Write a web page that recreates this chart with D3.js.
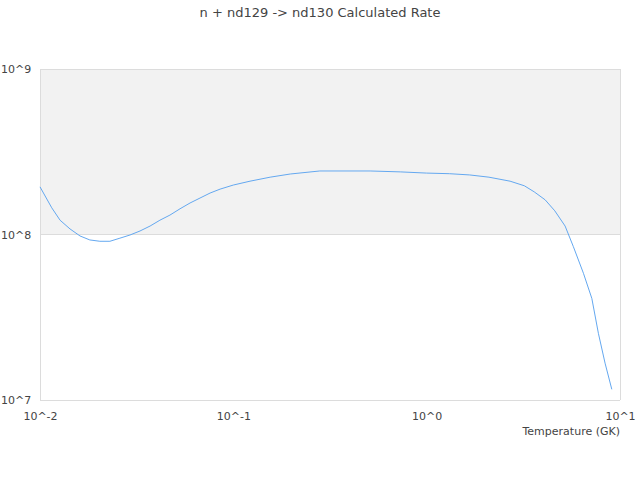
<!DOCTYPE html>
<html>
<head>
<meta charset="utf-8">
<script src="https://cdn.jsdelivr.net/npm/d3@7"></script>
<style>
  body { margin: 0; background: #fff; }
  #chart text { font-family: "DejaVu Sans", sans-serif; fill: #444; }
</style>
</head>
<body>
<div id="chart"></div>
<script>
// temperature (GK) and rate
let temps = [0.01, 0.0115, 0.0127, 0.0143, 0.0161, 0.0181, 0.0204, 0.023, 0.0259, 0.0292,
             0.0329, 0.0371, 0.0417, 0.047, 0.053, 0.0597, 0.0672, 0.0758, 0.0854, 0.1,
             0.122, 0.155, 0.197, 0.28, 0.51, 0.73, 1.0, 1.31, 1.67, 2.1, 2.7, 3.2, 3.6,
             4.1, 4.6, 5.2, 5.74, 6.47, 7.15, 7.73, 8.37, 9.07];
let rates = [1.94e8, 1.45e8, 1.22e8, 1.08e8, 9.8e7, 9.27e7, 9.1e7, 9.1e7, 9.5e7, 9.93e7,
             1.05e8, 1.125e8, 1.22e8, 1.31e8, 1.43e8, 1.55e8, 1.66e8, 1.78e8, 1.88e8, 1.99e8,
             2.1e8, 2.22e8, 2.32e8, 2.42e8, 2.42e8, 2.39e8, 2.35e8, 2.33e8, 2.29e8, 2.22e8,
             2.1e8, 1.97e8, 1.81e8, 1.62e8, 1.39e8, 1.125e8, 8.44e7, 5.83e7, 4.11e7, 2.53e7,
             1.67e7, 1.16e7];
let xTicks = [0.01, 0.1, 1, 10];
let xTickLabels = ["10^-2", "10^-1", "10^0", "10^1"];
let yTicks = [1e7, 1e8, 1e9];
let yTickLabels = ["10^7", "10^8", "10^9"];
let bands = [[1e8, 1e9]];

let w = 640, h = 480;
let m = {left: 40, right: 20, top: 69, bottom: 80};

let svg = d3.select("#chart").append("svg")
    .attr("width", w)
    .attr("height", h);

let x = d3.scaleLog().domain([0.01, 10]).range([m.left, w - m.right]);
let y = d3.scaleLog().domain([1e7, 1e9]).range([h - m.bottom, m.top]);

// shaded alternate band
svg.selectAll("rect.band")
    .data(bands)
  .enter().append("rect")
    .attr("class", "band")
    .attr("x", x.range()[0])
    .attr("width", x.range()[1] - x.range()[0])
    .attr("y", function(d) { return y(d[1]); })
    .attr("height", function(d) { return y(d[0]) - y(d[1]); })
    .attr("fill", "#f2f2f2");

// grid + frame
svg.selectAll("line.grid")
    .data(yTicks)
  .enter().append("line")
    .attr("class", "grid")
    .attr("x1", x.range()[0])
    .attr("x2", x.range()[1])
    .attr("y1", function(d) { return Math.round(y(d)) + 0.5; })
    .attr("y2", function(d) { return Math.round(y(d)) + 0.5; })
    .attr("stroke", "#dcdcdc");
svg.append("line")
    .attr("x1", x.range()[0] + 0.5).attr("x2", x.range()[0] + 0.5)
    .attr("y1", y.range()[1]).attr("y2", y.range()[0])
    .attr("stroke", "#dcdcdc");
svg.append("line")
    .attr("x1", x.range()[1] + 0.5).attr("x2", x.range()[1] + 0.5)
    .attr("y1", y.range()[1]).attr("y2", y.range()[0])
    .attr("stroke", "#dcdcdc");

// axes (labels only, no domain/ticks)
let xAxis = d3.axisBottom(x)
    .tickValues(xTicks)
    .tickSize(0)
    .tickPadding(12)
    .tickFormat(function(d, i) { return xTickLabels[i]; });
svg.append("g")
    .attr("transform", "translate(0," + y.range()[0] + ")")
    .call(xAxis)
    .call(function(g) { g.select(".domain").remove(); })
    .selectAll("text")
    .attr("font-size", 11)
    .attr("font-family", "DejaVu Sans, sans-serif")
    .attr("fill", "#444");

let yAxis = d3.axisLeft(y)
    .tickValues(yTicks)
    .tickSize(0)
    .tickPadding(0)
    .tickFormat(function(d, i) { return yTickLabels[i]; });
svg.append("g")
    .attr("transform", "translate(1,0)")
    .call(yAxis)
    .call(function(g) { g.select(".domain").remove(); })
    .selectAll("text")
    .attr("text-anchor", "start")
    .attr("font-size", 11)
    .attr("font-family", "DejaVu Sans, sans-serif")
    .attr("fill", "#444");

// rate curve
let line = d3.line()
    .x(function(d, i) { return x(temps[i]); })
    .y(function(d) { return y(d); });
svg.append("path")
    .datum(rates)
    .attr("d", line)
    .attr("fill", "none")
    .attr("stroke", "#64a8f0")
    .attr("stroke-width", 1);

// titles
svg.append("text")
    .attr("x", 320)
    .attr("y", 17)
    .attr("text-anchor", "middle")
    .attr("font-size", 13)
    .text("n + nd129 -> nd130 Calculated Rate");
svg.append("text")
    .attr("x", w - m.right)
    .attr("y", 435)
    .attr("text-anchor", "end")
    .attr("font-size", 11)
    .text("Temperature (GK)");
</script>
</body>
</html>
